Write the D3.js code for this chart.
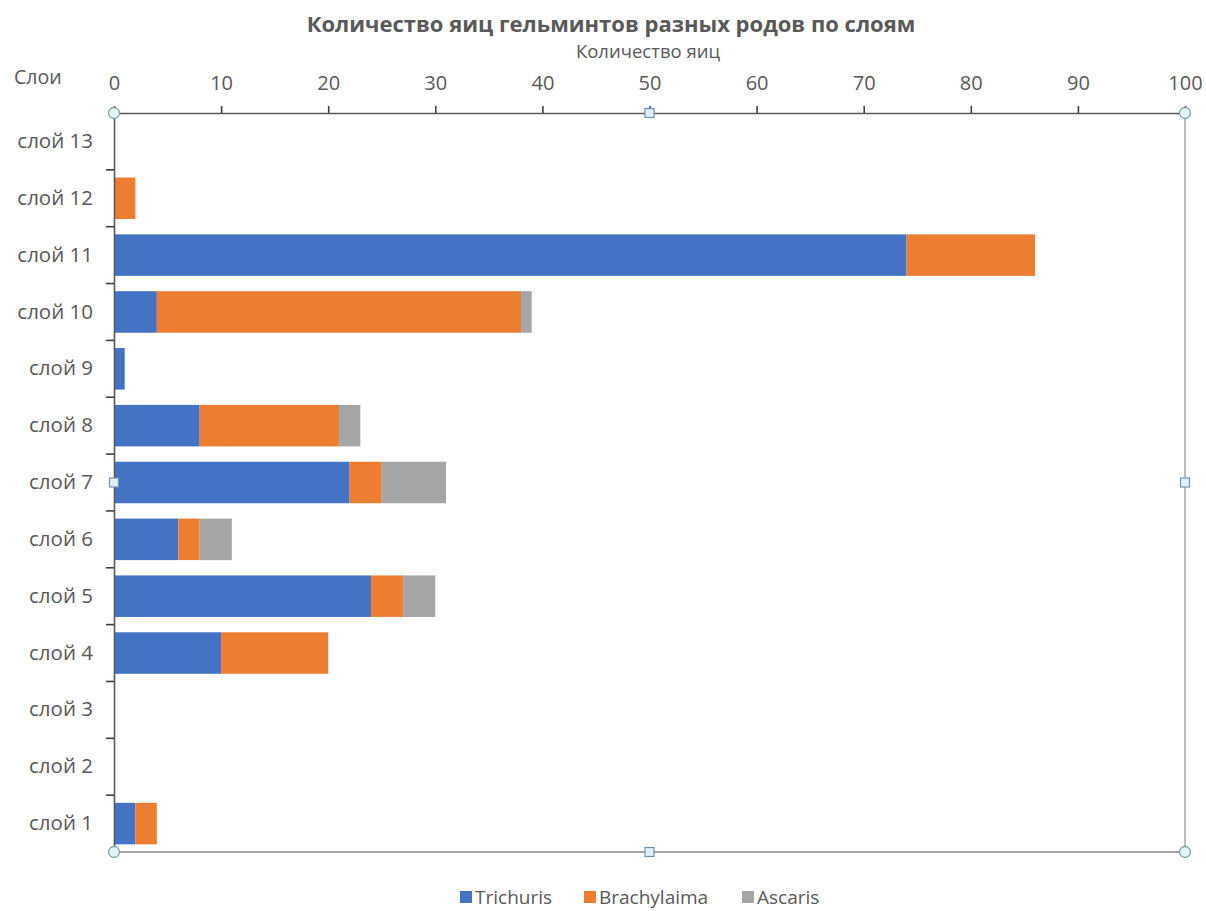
<!DOCTYPE html>
<html><head><meta charset="utf-8">
<script src="https://cdn.jsdelivr.net/npm/d3@7"></script>
<style>body{margin:0;background:#fff;} text{font-family:"Open Sans","Noto Sans",sans-serif;fill:#595959;}</style>
</head><body><svg id="c" width="1206" height="911"></svg>
<script>
const categories = ["слой 1","слой 2","слой 3","слой 4","слой 5","слой 6","слой 7","слой 8","слой 9","слой 10","слой 11","слой 12","слой 13"];
const seriesNames = ["Trichuris","Brachylaima","Ascaris"];
const trichuris   = [2,0,0,10,24,6,22,8,1,4,74,0,0];
const brachylaima = [2,0,0,10,3,2,3,13,0,34,12,2,0];
const ascaris     = [0,0,0,0,3,3,6,2,0,1,0,0,0];
const xTicks = [0,10,20,30,40,50,60,70,80,90,100];
const colors = ["#4472C4","#ED7D31","#A5A5A5"];

const svg = d3.select("#c");
const L=114, R=1185, T=113, B=852;
const x = d3.scaleLinear().domain([0,100]).range([L,R]);
const y = d3.scaleBand().domain(categories.slice().reverse()).range([T,B]).paddingInner(0).paddingOuter(0);

const rows = categories.map((c,i)=>({cat:c,Trichuris:trichuris[i],Brachylaima:brachylaima[i],Ascaris:ascaris[i]}));
const stack = d3.stack().keys(seriesNames)(rows);

// title
svg.append("text").attr("x",611).attr("y",32).attr("text-anchor","middle")
  .style("font-size","22px").style("font-weight","bold").text("Количество яиц гельминтов разных родов по слоям");
svg.append("text").attr("x",648).attr("y",58).attr("text-anchor","middle")
  .style("font-size","18.5px").text("Количество яиц");
svg.append("text").attr("x",14).attr("y",84).style("font-size","19.5px").text("Слои");

// bars
const barH = y.bandwidth()*0.73;
stack.forEach((s,k)=>{
  svg.append("g").selectAll("rect").data(s).join("rect")
    .attr("x",d=>x(d[0])).attr("width",d=>x(d[1])-x(d[0]))
    .attr("y",d=>y(d.data.cat)+(y.bandwidth()-barH)/2).attr("height",barH)
    .attr("fill",colors[k]);
});

// frame (right, bottom)
svg.append("line").attr("x1",R).attr("x2",R).attr("y1",T).attr("y2",B).attr("stroke","#9a9a9a").attr("stroke-width",1.3);
svg.append("line").attr("x1",L).attr("x2",R).attr("y1",B).attr("y2",B).attr("stroke","#8a8a8a").attr("stroke-width",1.3);

// top axis
const ax = svg.append("g").attr("transform",`translate(0,${T})`)
  .call(d3.axisTop(x).tickValues(xTicks).tickSize(7).tickSizeOuter(0).tickPadding(16));
ax.select(".domain").attr("stroke","#595959").attr("stroke-width",1.6);
ax.selectAll(".tick line").attr("stroke","#404040").attr("stroke-width",1.6);
ax.selectAll(".tick text").style("font-size","20px").style("font-family","'Open Sans',sans-serif").attr("fill","#595959");

// left axis
const ay = svg.append("g").attr("transform",`translate(${L},0)`)
  .call(d3.axisLeft(y).tickSize(0).tickPadding(21));
ay.select(".domain").attr("stroke","#595959").attr("stroke-width",1.6);
ay.selectAll(".tick text").style("font-size","20.5px").style("font-family","'Open Sans',sans-serif").attr("fill","#595959");
svg.append("g").selectAll("line").data(categories.slice(1)).join("line")
  .attr("x1",L-8).attr("x2",L).attr("y1",d=>y(d)+y.bandwidth()).attr("y2",d=>y(d)+y.bandwidth())
  .attr("stroke","#404040").attr("stroke-width",1.6);

// selection handles
const circ = [[L,T],[R,T],[L,B],[R,B]];
svg.append("g").selectAll("circle").data(circ).join("circle")
  .attr("cx",d=>d[0]).attr("cy",d=>d[1]).attr("r",5.5)
  .attr("fill","#e4f3f3").attr("stroke","#7fa3a8").attr("stroke-width",1.3);
const sq = [[x(50),T],[x(50),B],[L,(T+B)/2],[R,(T+B)/2]];
svg.append("g").selectAll("rect").data(sq).join("rect")
  .attr("x",d=>d[0]-4.5).attr("y",d=>d[1]-4.5).attr("width",9).attr("height",9)
  .attr("fill","#e2eefa").attr("stroke","#6f93b3").attr("stroke-width",1.2);

// legend
const legX = [460,584,742];
const lg = svg.append("g");
seriesNames.forEach((n,i)=>{
  lg.append("rect").attr("x",legX[i]).attr("y",891).attr("width",12).attr("height",12).attr("fill",colors[i]);
  lg.append("text").attr("x",legX[i]+15).attr("y",904).style("font-size","19px").text(n);
});
</script></body></html>
